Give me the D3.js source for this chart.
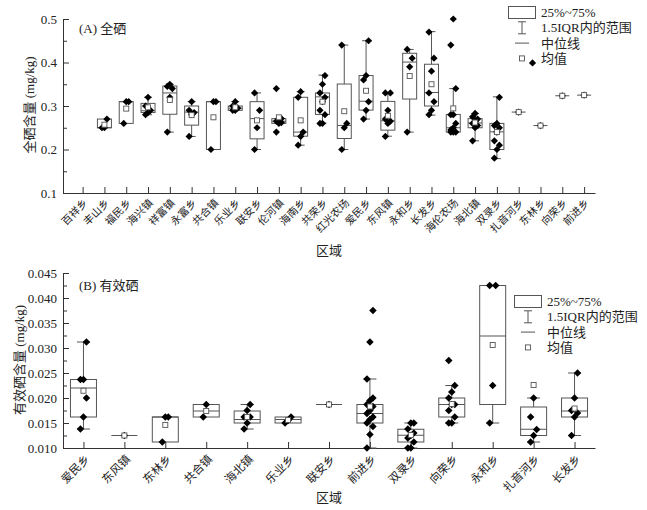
<!DOCTYPE html>
<html><head><meta charset="utf-8">
<script src="https://cdn.jsdelivr.net/npm/d3@7"></script>
<style>
body{margin:0;background:#fff;}
svg text{font-family:"Times New Roman","Liberation Serif","Noto Sans CJK SC",serif;fill:#222;}
</style></head>
<body><svg id="c" width="647" height="510"></svg>
<script>
// ---------- Panel A: 全硒 ----------
const catsA = ["百祥乡","丰山乡","福民乡","海兴镇","祥富镇","永富乡","共合镇","乐业乡","联安乡","伦河镇","海南乡","共荣乡","红光农场","爱民乡","东风镇","永和乡","长发乡","海伦农场","海北镇","双录乡","扎音河乡","东林乡","向荣乡","前进乡"];
const q1A   = [null,0.25,0.26,0.285,0.281,0.256,0.20,0.29,0.2245,0.26,0.2306,0.2806,0.2253,0.2906,0.2445,0.316,0.30,0.24,0.25,0.20,0.286,0.255,0.3235,0.325];
const medA  = [null,0.25,0.31,0.289,0.330,0.286,0.31,0.295,0.271,0.265,0.24,0.321,0.2553,0.311,0.266,0.401,0.331,0.25,0.261,0.2406,0.286,0.255,0.3235,0.325];
const q3A   = [null,0.27,0.31,0.306,0.346,0.30,0.31,0.30,0.31,0.271,0.32,0.330,0.3505,0.370,0.3106,0.4212,0.396,0.2806,0.271,0.26,0.286,0.255,0.3235,0.325];
const loA   = [null,0.25,0.26,0.28,0.24,0.23,0.20,0.29,0.20,0.26,0.21,0.261,0.20,0.27,0.2306,0.24,0.279,0.24,0.22,0.179,0.286,0.255,0.3235,0.325];
const hiA   = [null,0.27,0.31,0.32,0.35,0.31,0.31,0.31,0.33,0.271,0.333,0.371,0.44,0.45,0.33,0.43,0.471,0.34,0.283,0.321,0.286,0.255,0.3235,0.325];
const meanA = [null,0.257,0.294,0.297,0.314,0.279,0.274,0.297,0.267,0.274,0.267,0.31,0.288,0.335,0.2775,0.369,0.350,0.2945,0.262,0.24,0.286,0.255,0.3235,0.325];
const ptsA = [
  [],
  [0.25,0.25,0.27],
  [0.26,0.31,0.31],
  [0.28,0.285,0.29,0.30,0.32],
  [0.24,0.32,0.34,0.345,0.35],
  [0.23,0.28,0.285,0.29,0.31],
  [0.20,0.31,0.31],
  [0.29,0.29,0.295,0.30,0.31],
  [0.20,0.25,0.29,0.33],
  [0.24,0.26,0.262,0.265,0.27,0.271,0.34],
  [0.21,0.23,0.24,0.32,0.333],
  [0.26,0.26,0.28,0.29,0.31,0.32,0.33,0.35,0.37],
  [0.20,0.25,0.26,0.44],
  [0.27,0.29,0.31,0.36,0.37,0.45],
  [0.23,0.26,0.265,0.27,0.29,0.33,0.33],
  [0.24,0.39,0.41,0.43],
  [0.28,0.29,0.31,0.33,0.38,0.41,0.47],
  [0.24,0.24,0.24,0.245,0.25,0.26,0.28,0.28,0.34,0.44,0.50],
  [0.22,0.25,0.255,0.26,0.265,0.27,0.275,0.283],
  [0.18,0.20,0.21,0.22,0.24,0.25,0.255,0.26,0.32],
  [0.286],
  [0.255],
  [0.3235],
  [0.325]
];
const yTicksA = [0.1,0.2,0.3,0.4,0.5];

// ---------- Panel B: 有效硒 ----------
const catsB = ["爱民乡","东风镇","东林乡","共合镇","海北镇","乐业乡","联安乡","前进乡","双录乡","向荣乡","永和乡","扎音河乡","长发乡"];
const q1B   = [0.0162,0.0125,0.0112,0.0162,0.0150,0.0150,0.0187,0.0150,0.0112,0.0162,0.0187,0.0125,0.0162];
const medB  = [0.0220,0.0125,0.0162,0.0174,0.0157,0.0157,0.0187,0.0169,0.01255,0.0187,0.0324,0.01375,0.0174];
const q3B   = [0.0237,0.0125,0.0162,0.0187,0.0174,0.0162,0.0187,0.0187,0.01375,0.0200,0.0425,0.0182,0.0200];
const loB   = [0.0138,0.0125,0.0112,0.0162,0.0138,0.0150,0.0187,0.0100,0.0100,0.0150,0.0150,0.0112,0.0125];
const hiB   = [0.0312,0.0125,0.0162,0.0187,0.0187,0.0162,0.0187,0.0238,0.0150,0.0225,0.0425,0.0200,0.0250];
const meanB = [0.02145,0.0125,0.01462,0.0174,0.0162,0.0156,0.0187,0.0183,0.0126,0.0188,0.0306,0.0226,0.0179];
const ptsB = [
  [0.0138,0.0162,0.0200,0.0237,0.0237,0.0312],
  [0.0125],
  [0.0112,0.0162,0.0162],
  [0.0162,0.0187],
  [0.0138,0.0150,0.0162,0.0162,0.0175,0.0187],
  [0.0150,0.0155,0.0162],
  [0.0187],
  [0.0100,0.0127,0.0143,0.0150,0.0157,0.0162,0.0169,0.0175,0.0183,0.0187,0.0195,0.0200,0.0238,0.0312,0.0375],
  [0.0100,0.0100,0.0112,0.0120,0.0125,0.0130,0.0138,0.0150,0.0150],
  [0.0150,0.0150,0.0162,0.0175,0.0187,0.0187,0.0200,0.0212,0.0225,0.0275],
  [0.0150,0.0225,0.0425,0.0425],
  [0.0112,0.0125,0.0137,0.0162,0.0200],
  [0.0125,0.0162,0.0170,0.0175,0.0200,0.0250]
];
const yTicksB = [0.010,0.015,0.020,0.025,0.030,0.035,0.040,0.045];

const legendLabels = ["25%~75%","1.5IQR内的范围","中位线","均值"];

const svg = d3.select("#c");
const STROKE = "#555";

function panel(opt){
  const g = svg.append("g");
  const x = d3.scaleLinear().domain(opt.xDomain).range([63,595]);
  const y = d3.scaleLinear().domain(opt.yDomain).range(opt.yRange);
  const idx = opt.cats.map((d,i)=>i);

  const ya = g.append("g").attr("transform","translate(63,0)")
    .call(d3.axisLeft(y).tickValues(opt.yTicks).tickFormat(opt.fmt).tickSizeInner(-6).tickSizeOuter(0).tickPadding(6));
  ya.selectAll("text").style("font-size","13px");
  const minor = [];
  for(let i=0;i<opt.yTicks.length-1;i++) minor.push((opt.yTicks[i]+opt.yTicks[i+1])/2);
  g.append("g").attr("transform","translate(63,0)")
    .call(d3.axisLeft(y).tickValues(minor).tickFormat("").tickSizeInner(-4).tickSizeOuter(0))
    .select(".domain").remove();
  g.append("g").attr("transform",`translate(0,${opt.yRange[0]})`)
    .call(d3.axisBottom(x).tickValues(idx).tickFormat("").tickSizeInner(-6).tickSizeOuter(0));
  g.selectAll(".domain").attr("stroke","#333");
  g.selectAll(".tick line").attr("stroke","#333");

  g.append("g").selectAll("text").data(opt.cats).join("text")
    .attr("transform",(d,i)=>`translate(${x(i)+opt.lblDx},${opt.yRange[0]+opt.lblDy}) rotate(-45)`)
    .attr("text-anchor","end").attr("dy","0.35em")
    .style("font-size",opt.lblSize+"px").text(d=>d);

  const bw = opt.boxW, cw = opt.capW;
  const items = idx.filter(i=>opt.q1[i]!==null);
  const bg = g.append("g");
  items.forEach(i=>{
    const cx = x(i);
    if(opt.hi[i] > opt.q3[i]){
      bg.append("line").attr("x1",cx).attr("x2",cx).attr("y1",y(opt.q3[i])).attr("y2",y(opt.hi[i])).attr("stroke",STROKE);
      bg.append("line").attr("x1",cx-cw/2).attr("x2",cx+cw/2).attr("y1",y(opt.hi[i])).attr("y2",y(opt.hi[i])).attr("stroke",STROKE);
    }
    if(opt.lo[i] < opt.q1[i]){
      bg.append("line").attr("x1",cx).attr("x2",cx).attr("y1",y(opt.q1[i])).attr("y2",y(opt.lo[i])).attr("stroke",STROKE);
      bg.append("line").attr("x1",cx-cw/2).attr("x2",cx+cw/2).attr("y1",y(opt.lo[i])).attr("y2",y(opt.lo[i])).attr("stroke",STROKE);
    }
    bg.append("rect").attr("x",cx-bw/2).attr("width",bw)
      .attr("y",y(opt.q3[i])).attr("height",Math.max(0,y(opt.q1[i])-y(opt.q3[i])))
      .attr("fill","none").attr("stroke",STROKE);
    bg.append("line").attr("x1",cx-bw/2).attr("x2",cx+bw/2).attr("y1",y(opt.med[i])).attr("y2",y(opt.med[i])).attr("stroke",STROKE);
  });
  const diamond = d3.symbol().type(d3.symbolSquare).size(opt.ptSize);
  items.forEach(i=>{
    const pts = opt.pts[i];
    g.append("g").selectAll("path").data(pts).join("path")
      .attr("d",diamond)
      .attr("transform",(v,k)=>{
        const off = pts.length>1 ? ((k%3)-1)*opt.jit : 0;
        return `translate(${x(i)+off},${y(v)}) rotate(45)`;})
      .attr("fill","#000");
  });
  items.forEach(i=>{
    g.append("rect").attr("x",x(i)-2.5).attr("y",y(opt.mean[i])-2.5).attr("width",5).attr("height",5)
      .attr("fill","#fff").attr("stroke",STROKE).attr("stroke-width",0.9);
  });

  g.append("text").attr("x",opt.tag[0]).attr("y",opt.tag[1]).attr("dy","0.35em")
    .style("font-size","13px").text(opt.tagText);
  g.append("text").attr("transform",`translate(${opt.yt[0]},${opt.yt[1]}) rotate(-90)`)
    .attr("text-anchor","middle").attr("dy","0.35em").style("font-size","13px").text(opt.yTitle);
  g.append("text").attr("x",329).attr("y",opt.xtY).attr("text-anchor","middle").attr("dy","0.35em")
    .style("font-size","13px").text("区域");

  const L = opt.leg;
  const lg = g.append("g");
  const rows = legendLabels.map((t,k)=>L[2]+k*15.3);
  lg.append("rect").attr("x",L[0]-13.5).attr("y",rows[0]-6).attr("width",27).attr("height",12)
    .attr("fill","none").attr("stroke",STROKE);
  lg.append("line").attr("x1",L[0]).attr("x2",L[0]).attr("y1",rows[1]-6).attr("y2",rows[1]+6).attr("stroke",STROKE);
  lg.append("line").attr("x1",L[0]-4).attr("x2",L[0]+4).attr("y1",rows[1]-6).attr("y2",rows[1]-6).attr("stroke",STROKE);
  lg.append("line").attr("x1",L[0]-4).attr("x2",L[0]+4).attr("y1",rows[1]+6).attr("y2",rows[1]+6).attr("stroke",STROKE);
  lg.append("line").attr("x1",L[0]-7).attr("x2",L[0]+7).attr("y1",rows[2]).attr("y2",rows[2]).attr("stroke",STROKE);
  lg.append("rect").attr("x",L[0]-2.5).attr("y",rows[3]-2.5).attr("width",5).attr("height",5)
    .attr("fill","#fff").attr("stroke",STROKE).attr("stroke-width",0.9);
  if(opt.legDiamond){
    lg.append("path").attr("d",diamond).attr("transform",`translate(${L[0]+10.5},${rows[3]+4.5}) rotate(45)`).attr("fill","#000");
  }
  lg.selectAll("text").data(legendLabels).join("text")
    .attr("x",L[1]).attr("y",(d,k)=>rows[k]).attr("dy","0.35em").style("font-size","13px").text(d=>d);
}

panel({cats:catsA,q1:q1A,med:medA,q3:q3A,lo:loA,hi:hiA,mean:meanA,pts:ptsA,
  xDomain:[-0.9,23.5],yDomain:[0.1,0.5],yRange:[193,19],yTicks:yTicksA,fmt:d3.format(".1f"),
  boxW:14,capW:8,ptSize:26,jit:2.5,lblDx:3,lblDy:8,lblSize:10.5,
  tag:[79,28],tagText:"(A) 全硒",yt:[29,105],yTitle:"全硒含量 (mg/kg)",xtY:250,
  leg:[522,541,12.5],legDiamond:true});

panel({cats:catsB,q1:q1B,med:medB,q3:q3B,lo:loB,hi:hiB,mean:meanB,pts:ptsB,
  xDomain:[-0.5,12.5],yDomain:[0.010,0.045],yRange:[448,273],yTicks:yTicksB,fmt:d3.format(".3f"),
  boxW:26,capW:13,ptSize:28,jit:3,lblDx:4,lblDy:9,lblSize:11.5,
  tag:[79,285],tagText:"(B) 有效硒",yt:[19,360],yTitle:"有效硒含量 (mg/kg)",xtY:497,
  leg:[528,547,301.5],legDiamond:false});
</script></body></html>
